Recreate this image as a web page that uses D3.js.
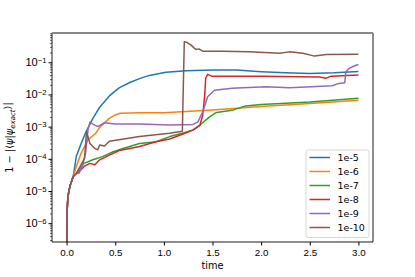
<!DOCTYPE html>
<html lang="en">
<head>
  <meta charset="UTF-8" />
  <title>Overlap error vs time</title>
  <script src="https://d3js.org/d3.v7.min.js"></script>
  <style>
    body { margin: 0; background: #fff; }
    svg { display: block; font-family: "DejaVu Sans", sans-serif; }
    .line { fill: none; stroke-width: 1.5px; stroke-linejoin: round; }
    .tick text { font-size: 9.8px; fill: #000; }
  </style>
</head>
<body>
  <svg id="chart" width="415" height="277"></svg>
  <script>
    const labels = ['1e-5', '1e-6', '1e-7', '1e-8', '1e-9', '1e-10'];
    const colors = ['#1f77b4', '#ff7f0e', '#2ca02c', '#d62728', '#9467bd', '#8c564b'];
    const xTicks = [0, 0.5, 1, 1.5, 2, 2.5, 3];
    const yTicks = [1e-6, 1e-5, 1e-4, 1e-3, 1e-2, 1e-1];

    // shared start of every run: [time, 1 - |<psi|psi_exact>|]
    const start = [[0, 1e-9], [0.002, 4e-7], [0.006, 2.6e-6], [0.014, 6.8e-6], [0.034, 1.4e-5], [0.068, 2.8e-5]];

    const tol5 = [[0.1, 1.2e-4], [0.15, 3.0e-4], [0.2, 6.9e-4], [0.27, 1.8e-3], [0.34, 4.0e-3], [0.44, 9.0e-3],
      [0.54, 1.6e-2], [0.65, 2.35e-2], [0.75, 3.1e-2], [0.85, 3.9e-2], [1.02, 4.9e-2], [1.23, 5.4e-2],
      [1.5, 5.75e-2], [1.75, 5.7e-2], [2.0, 5.1e-2], [2.25, 4.7e-2], [2.5, 4.5e-2], [2.75, 4.7e-2], [3.0, 5.2e-2]];
    const tol6 = [[0.1, 5.8e-5], [0.15, 1.5e-4], [0.22, 3.9e-4], [0.3, 6.2e-4], [0.34, 9.5e-4], [0.44, 1.8e-3],
      [0.5, 2.3e-3], [0.55, 2.6e-3], [0.75, 2.7e-3], [1.0, 2.7e-3], [1.5, 3.3e-3], [2.0, 4.2e-3],
      [2.5, 5.2e-3], [3.0, 6.6e-3]];
    const tol7 = [[0.1, 3.5e-5], [0.13, 4.6e-5], [0.18, 7.2e-5], [0.27, 9.3e-5], [0.37, 1.17e-4], [0.48, 1.66e-4],
      [0.58, 2.1e-4], [0.75, 3.0e-4], [0.92, 3.4e-4], [1.06, 4.9e-4], [1.19, 6.2e-4], [1.3, 7.9e-4],
      [1.37, 1.12e-3], [1.47, 2.0e-3], [1.54, 2.75e-3], [1.7, 3.2e-3], [1.84, 4.4e-3], [2.0, 4.9e-3],
      [2.2, 5.2e-3], [2.5, 5.8e-3], [2.8, 6.8e-3], [3.0, 7.6e-3]];
    const tol8 = [[0.1, 3.5e-5], [0.13, 4.0e-5], [0.18, 5.8e-5], [0.24, 7.2e-5], [0.29, 6.5e-5], [0.34, 9.3e-5],
      [0.44, 1.3e-4], [0.54, 1.8e-4], [0.65, 2.1e-4], [0.75, 2.4e-4], [0.92, 3.4e-4], [1.06, 4.1e-4],
      [1.19, 5.8e-4], [1.3, 7.8e-4], [1.37, 1.1e-3], [1.4, 2.3e-3], [1.42, 9.5e-3], [1.43, 3.2e-2],
      [1.45, 4.2e-2], [1.49, 3.7e-2], [2.0, 3.7e-2], [2.6, 3.5e-2], [2.67, 3.2e-2], [2.72, 3.7e-2], [3.0, 4.0e-2]];
    const tol9 = [[0.1, 3.5e-5], [0.13, 3.6e-5], [0.17, 7.2e-5], [0.195, 1.5e-4], [0.22, 7.9e-4], [0.24, 1.4e-3],
      [0.27, 1.2e-3], [0.32, 1.0e-3], [0.39, 1.32e-3], [0.5, 1.2e-3], [0.75, 1.2e-3], [1.06, 1.12e-3],
      [1.3, 1.17e-3], [1.35, 1.4e-3], [1.4, 2.9e-3], [1.45, 8.5e-3], [1.52, 1.35e-2], [1.7, 1.55e-2],
      [2.05, 1.74e-2], [2.29, 1.62e-2], [2.73, 1.86e-2], [2.8, 2.2e-2], [2.86, 2.3e-2], [2.87, 5.0e-2],
      [2.9, 6.3e-2], [2.96, 7.8e-2], [3.0, 8.5e-2]];
    const tol10 = [[0.1, 3.5e-5], [0.13, 5.1e-5], [0.185, 1.05e-4], [0.205, 6.9e-4], [0.24, 3.0e-4], [0.29, 2.1e-4],
      [0.32, 1.9e-4], [0.34, 2.7e-4], [0.39, 2.5e-4], [0.44, 3.5e-4], [0.54, 3.9e-4], [0.75, 4.9e-4],
      [1.06, 6.2e-4], [1.19, 7.2e-4], [1.21, 0.43], [1.24, 0.41], [1.28, 0.34], [1.31, 0.28], [1.33, 0.25],
      [1.36, 0.26], [1.4, 0.22], [1.6, 0.22], [1.88, 0.21], [2.19, 0.19], [2.29, 0.21], [2.43, 0.19],
      [2.55, 0.155], [2.67, 0.174], [3.0, 0.178]];

    const series = [tol5, tol6, tol7, tol8, tol9, tol10].map(s => start.concat(s));

    const margin = { left: 52, right: 42, top: 33, bottom: 35 };
    const W = 415, H = 277;
    const svg = d3.select('#chart');

    const x = d3.scaleLinear().domain([-0.15, 3.15]).range([margin.left, W - margin.right]);
    const y = d3.scaleLog().domain([2.6e-7, 0.81]).range([H - margin.bottom, margin.top]);

    svg.append('clipPath').attr('id', 'clip').append('rect')
      .attr('x', margin.left).attr('y', margin.top)
      .attr('width', W - margin.left - margin.right).attr('height', H - margin.top - margin.bottom);

    const line = d3.line().x(d => x(d[0])).y(d => y(d[1]));
    svg.append('g').attr('clip-path', 'url(#clip)')
      .selectAll('path').data(series).join('path')
      .attr('class', 'line')
      .attr('stroke', (d, i) => colors[i])
      .attr('d', line);

    // x axis
    const gx = svg.append('g').attr('transform', `translate(0,${H - margin.bottom})`)
      .call(d3.axisBottom(x).tickValues(xTicks).tickFormat(d3.format('.1f')).tickSize(3.5).tickPadding(3.5));
    gx.select('.domain').remove();

    // y axis: minor ticks then major ticks with 10^k labels
    const minors = [];
    for (let e = -7; e <= 0; e++) for (let m = 2; m <= 9; m++) {
      const v = m * Math.pow(10, e);
      if (v >= 2.6e-7 && v <= 0.81) minors.push(v);
    }
    const gyMinor = svg.append('g').attr('transform', `translate(${margin.left},0)`)
      .call(d3.axisLeft(y).tickValues(minors).tickFormat('').tickSize(2));
    gyMinor.select('.domain').remove();
    gyMinor.selectAll('line').attr('stroke-width', 0.6);

    const gy = svg.append('g').attr('transform', `translate(${margin.left},0)`)
      .call(d3.axisLeft(y).tickValues(yTicks).tickFormat('').tickSize(3.5));
    gy.select('.domain').remove();
    gy.selectAll('.tick').each(function(d) {
      const t = d3.select(this).append('text')
        .attr('x', -5.5).attr('dy', '0.32em').attr('text-anchor', 'end')
        .style('font-size', '11px').attr('fill', '#000');
      t.append('tspan').text('10');
      t.append('tspan').attr('dy', '-0.45em').style('font-size', '7.7px')
        .text('\u2212' + (-Math.round(Math.log10(d))));
    });

    // frame
    const x0 = margin.left, x1 = W - margin.right, y0 = margin.top, y1 = H - margin.bottom;
    svg.append('line').attr('x1', x0).attr('x2', x0).attr('y1', y0).attr('y2', y1).attr('stroke', '#000').attr('stroke-width', 0.9);
    svg.append('line').attr('x1', x1).attr('x2', x1).attr('y1', y0).attr('y2', y1).attr('stroke', '#000').attr('stroke-width', 0.9);
    svg.append('line').attr('x1', x0).attr('x2', x1).attr('y1', y1).attr('y2', y1).attr('stroke', '#000').attr('stroke-width', 0.9);
    svg.append('line').attr('x1', x0).attr('x2', x1).attr('y1', y0).attr('y2', y0).attr('stroke', '#888').attr('stroke-width', 1.8);

    // axis labels
    svg.append('text').attr('x', (x0 + x1) / 2).attr('y', 269).attr('text-anchor', 'middle')
      .style('font-size', '9.8px').text('time');
    const yl = svg.append('text').attr('transform', `translate(13,${(y0 + y1) / 2}) rotate(-90)`)
      .attr('text-anchor', 'middle').style('font-size', '9.8px');
    yl.append('tspan').text('1 \u2212 |\u27E8');
    yl.append('tspan').style('font-style', 'italic').text('\u03C8');
    yl.append('tspan').text('|');
    yl.append('tspan').style('font-style', 'italic').text('\u03C8');
    yl.append('tspan').attr('dy', '0.25em').style('font-size', '7px').style('font-style', 'italic').text('exact');
    yl.append('tspan').attr('dy', '-0.35em').text('\u27E9|');

    // legend
    const lg = svg.append('g').attr('transform', 'translate(306,150)');
    lg.append('rect').attr('width', 63).attr('height', 87.5).attr('rx', 2)
      .attr('fill', '#fff').attr('fill-opacity', 0.8).attr('stroke', '#ccc').attr('stroke-width', 0.8);
    const items = lg.selectAll('g.item').data(labels).join('g')
      .attr('class', 'item').attr('transform', (d, i) => `translate(0,${7.5 + i * 14})`);
    items.append('line').attr('x1', 3.5).attr('x2', 24)
      .attr('stroke', (d, i) => colors[i]).attr('stroke-width', 1.5);
    items.append('text').attr('x', 31.5).attr('dy', '0.35em')
      .style('font-size', '9.5px').text(d => d);
  </script>
</body>
</html>
